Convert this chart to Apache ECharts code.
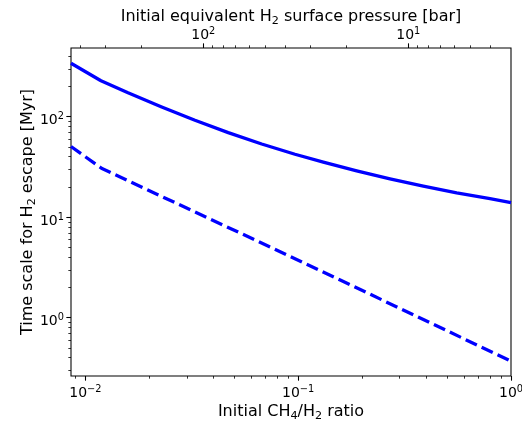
<!DOCTYPE html>
<html><head><meta charset="utf-8">
<script src="https://cdn.jsdelivr.net/npm/echarts@6/dist/echarts.min.js"></script>
<style>html,body{margin:0;padding:0;background:#fff}#c{width:522px;height:423px}</style>
</head><body><div id="c"></div>
<script>
// ---- data ----
const ratioSolid = [0.00856, 0.01184, 0.01586, 0.02284, 0.03273, 0.04692, 0.06738, 0.0966, 0.1312, 0.1883, 0.2700, 0.3872, 0.5556, 0.7967, 1.0];
const timeSolid  = [340, 228.1, 172.7, 124.9, 92.1, 69.5, 53.5, 42.3, 35.3, 28.9, 24.05, 20.35, 17.45, 15.31, 14.0];
const ratioDashed = [0.00856, 0.0119, 0.0279, 0.0628, 0.1576, 0.9577, 1.0];
const timeDashed  = [50.5, 30.7, 13.2, 5.93, 2.37, 0.386, 0.369];

const xMajorTicks = [0.01, 0.1, 1];
const xMinorTicks = [0.009, 0.02, 0.03, 0.04, 0.05, 0.06, 0.07, 0.08, 0.09, 0.2, 0.3, 0.4, 0.5, 0.6, 0.7, 0.8, 0.9];
const pMajorTicks = [10, 100];
const pMinorTicks = [4, 5, 6, 7, 8, 9, 20, 30, 40, 50, 60, 70, 80, 90, 200, 300, 400];
const yMajorTicks = [1, 10, 100];
const yMinorTicks = [0.3, 0.4, 0.5, 0.6, 0.7, 0.8, 0.9, 2, 3, 4, 5, 6, 7, 8, 9, 20, 30, 40, 50, 60, 70, 80, 90, 200, 300, 400];

const xRange = [0.00856, 1];
const pRange = [3.155, 442];
const yRange = [0.263, 482.6];

const FONT = 'DejaVu Sans';
function sci(v) {
  const e = Math.round(Math.log10(v));
  return '{b|10}{s|' + (e < 0 ? '\u2212' + (-e) : String(e)) + '}';
}
const tickRich = {
  b: {fontFamily: FONT, fontSize: 14, lineHeight: 15, color: '#000', verticalAlign: 'top', padding: [2, 0, 0, 0]},
  s: {fontFamily: FONT, fontSize: 9.8, lineHeight: 10, color: '#000', verticalAlign: 'top'}
};
const nameRich = {
  n: {fontFamily: FONT, fontSize: 16, lineHeight: 16, color: '#000', verticalAlign: 'top'},
  sub: {fontFamily: FONT, fontSize: 11.2, lineHeight: 11.2, color: '#000', verticalAlign: 'top', padding: [7, 0, 0, 0]}
};
const majorTick = (vals) => ({show: true, inside: false, length: 4.67, customValues: vals, lineStyle: {color: '#000', width: 1.07}});
const minorTick = (vals) => ({show: true, inside: false, length: 2.67, customValues: vals, lineStyle: {color: '#000', width: 0.8}});
const noLine = {show: false};
const noSplit = {show: false};

function zip(a, b) { return a.map((v, i) => [v, b[i]]); }

const option = {
  animation: false,
  backgroundColor: '#fff',
  grid: {left: 71, top: 48, width: 440, height: 328, containLabel: false, outerBoundsMode: 'none',
         show: true, borderColor: '#000', borderWidth: 1.07, backgroundColor: 'transparent'},
  xAxis: [
    {type: 'log', logBase: 10, position: 'bottom', min: xRange[0], max: xRange[1],
     axisLine: noLine, splitLine: noSplit, axisTick: majorTick(xMajorTicks),
     axisLabel: {show: true, margin: 8, customValues: xMajorTicks, formatter: sci, rich: tickRich},
     name: '{n|Initial CH}{sub|4}{n|/H}{sub|2}{n| ratio}', nameLocation: 'middle', nameGap: 28, nameMoveOverlap: false,
     nameTextStyle: {fontFamily: FONT, fontSize: 16, color: '#000', rich: nameRich}},
    {type: 'log', logBase: 10, position: 'bottom', min: xRange[0], max: xRange[1],
     axisLine: noLine, splitLine: noSplit, axisTick: minorTick(xMinorTicks), axisLabel: {show: false}},
    {type: 'log', logBase: 10, position: 'top', inverse: true, min: pRange[0], max: pRange[1],
     axisLine: noLine, splitLine: noSplit, axisTick: majorTick(pMajorTicks),
     axisLabel: {show: true, margin: 7, customValues: pMajorTicks, formatter: sci, rich: tickRich},
     name: '{n|Initial equivalent H}{sub|2}{n| surface pressure [bar]}', nameLocation: 'middle', nameGap: 23.5, nameMoveOverlap: false,
     nameTextStyle: {fontFamily: FONT, fontSize: 16, color: '#000', rich: nameRich}},
    {type: 'log', logBase: 10, position: 'top', inverse: true, min: pRange[0], max: pRange[1],
     axisLine: noLine, splitLine: noSplit, axisTick: minorTick(pMinorTicks), axisLabel: {show: false}}
  ],
  yAxis: [
    {type: 'log', logBase: 10, position: 'left', min: yRange[0], max: yRange[1],
     axisLine: noLine, splitLine: noSplit, axisTick: majorTick(yMajorTicks),
     axisLabel: {show: true, margin: 7, padding: [5, 0, 0, 0], customValues: yMajorTicks, formatter: sci, rich: tickRich},
     name: '{n|Time scale for H}{sub|2}{n| escape [Myr]}', nameLocation: 'middle', nameGap: 35, nameMoveOverlap: false,
     nameTextStyle: {fontFamily: FONT, fontSize: 16, color: '#000', rich: nameRich}},
    {type: 'log', logBase: 10, position: 'left', min: yRange[0], max: yRange[1],
     axisLine: noLine, splitLine: noSplit, axisTick: minorTick(yMinorTicks), axisLabel: {show: false}}
  ],
  series: [
    {type: 'line', xAxisIndex: 0, yAxisIndex: 0, data: zip(ratioSolid, timeSolid), showSymbol: false, symbol: 'none',
     lineStyle: {color: '#0000ff', width: 3.3, join: 'round'}},
    {type: 'line', xAxisIndex: 0, yAxisIndex: 0, data: zip(ratioDashed, timeDashed), showSymbol: false, symbol: 'none',
     lineStyle: {color: '#0000ff', width: 3.3, type: [12.3, 5.3], cap: 'butt', join: 'round'}}
  ]
};
const chart = echarts.init(document.getElementById('c'), null, {renderer: 'canvas'});
chart.setOption(option);
</script></body></html>
